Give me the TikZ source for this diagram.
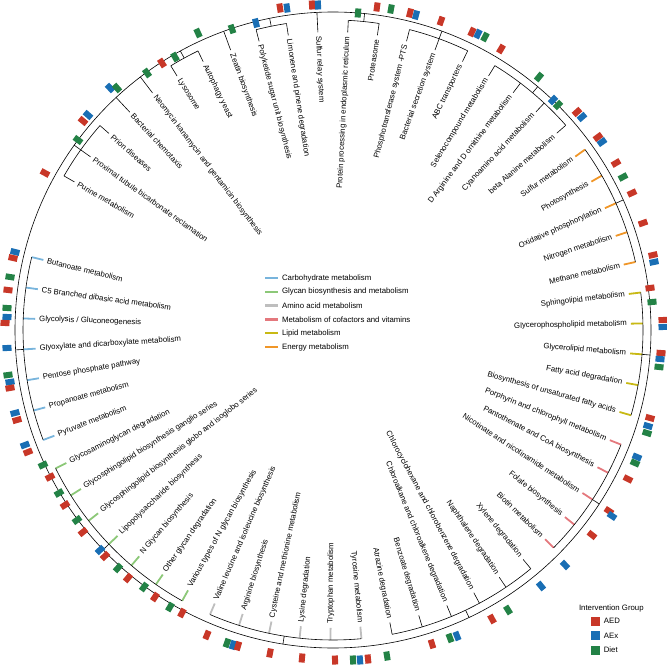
\documentclass[tikz,border=0pt]{standalone}
\usepackage{fontspec}
\setmainfont{Liberation Sans}
\usetikzlibrary{positioning}
\definecolor{carbC}{RGB}{120,180,220}
\definecolor{glycC}{RGB}{140,200,120}
\definecolor{aminC}{RGB}{190,190,190}
\definecolor{cofC}{RGB}{228,120,125}
\definecolor{lipC}{RGB}{200,185,20}
\definecolor{enC}{RGB}{240,150,40}
\definecolor{aedC}{RGB}{200,55,40}
\definecolor{aexC}{RGB}{25,110,180}
\definecolor{dietC}{RGB}{35,130,70}
\tikzset{every picture/.style={line width=0.6pt}}
\tikzset{sq/.style={inner sep=0pt,minimum width=9pt,minimum height=6pt},
  leaflab/.style={inner sep=0.75pt,font=\fontsize{7.8}{9}\selectfont},
  keylab/.style={anchor=west,inner sep=0.75pt,font=\fontsize{7.8}{9}\selectfont}}
\def\blkname{black}
% square of the intervention ring, at screen point (x,y)
\newcommand{\sqm}[3]{\pgfmathsetmacro\sqang{atan2(330-#3,#2-333)}
  \node[sq,fill=#1,rotate=\sqang] at (#2,#3) {};}
% arc of a group of leaves, with its stub to the outer ring
\newcommand{\grp}[2]{\pgfmathsetmacro\ga{-(166.4+5.73*#1)}\pgfmathsetmacro\gb{-(166.4+5.73*#2)}
  \pgfmathsetmacro\gm{(\ga+\gb)/2}
  \draw[shift={(333,330)}] (\ga:310) arc[start angle=\ga,end angle=\gb,radius=310];
  \draw[shift={(333,330)}] (\gm:310) -- (\gm:318);}

\begin{document}
\begin{tikzpicture}[x=1pt,y=1pt,yscale=-1,xscale=1]
\useasboundingbox (0,0) rectangle (667,666);

%Outer ring
\draw (333,330) circle (318);

%Leaves
\foreach \lab/\col [count=\i from 0] in {
 Butanoate metabolism/carbC, C5 Branched dibasic acid metabolism/carbC,
 {Glycolysis / Gluconeogenesis}/carbC, Glyoxylate and dicarboxylate metabolism/carbC,
 Pentose phosphate pathway/carbC, Propanoate metabolism/carbC, Pyruvate metabolism/carbC,
 Glycosaminoglycan degradation/glycC, Glycosphingolipid biosynthesis ganglio series/glycC,
 Glycosphingolipid biosynthesis globo and isoglobo series/glycC,
 Lipopolysaccharide biosynthesis/glycC, N Glycan biosynthesis/glycC,
 Other glycan degradation/glycC, Various types of N glycan biosynthesis/glycC,
 Valine leucine and isoleucine biosynthesis/aminC, Arginine biosynthesis/aminC,
 Cysteine and methionine metabolism/aminC, Lysine degradation/aminC,
 Tryptophan metabolism/aminC, Tyrosine metabolism/aminC,
 Atrazine degradation/black, Benzoate degradation/black,
 Chloroalkane and chloroalkene degradation/black,
 Chlorocyclohexane and chlorobenzene degradation/black,
 Naphthalene degradation/black, Xylene degradation/black,
 Biotin metabolism/cofC, Folate biosynthesis/cofC,
 Nicotinate and nicotinamide metabolism/cofC, Pantothenate and CoA biosynthesis/cofC,
 Porphyrin and chlorophyll metabolism/cofC,
 Biosynthesis of unsaturated fatty acids/lipC, Fatty acid degradation/lipC,
 Glycerolipid metabolism/lipC, Glycerophospholipid metabolism/lipC, Sphingolipid metabolism/lipC,
 Methane metabolism/enC, Nitrogen metabolism/enC, Oxidative phosphorylation/enC,
 Photosynthesis/enC, Sulfur metabolism/enC,
 beta Alanine metabolism/black, Cyanoamino acid metabolism/black,
 D Arginine and D ornithine metabolism/black, Selenocompound metabolism/black,
 ABC transporters/black, Bacterial secretion system/black,
 Phosphotransferase system -PTS/black, Proteasome/black,
 Protein processing in endoplasmic reticulum/black, Sulfur relay system/black,
 Limonene and pinene degradation/black, Polyketide sugar unit biosynthesis/black,
 Zeatin biosynthesis/black, Autophagy yeast/black, Lysosome/black,
 Neomycin kanamycin and gentamicin biosynthesis/black, Bacterial chemotaxis/black,
 Prion diseases/black, Proximal tubule bicarbonate reclamation/black, Purine metabolism/black}{
  \pgfmathsetmacro\t{mod(166.4+5.73*\i,360)}
  \edef\colname{\col}
  \ifx\colname\blkname \def\lw{0.6}\else \def\lw{1.8}\fi
  \draw[shift={(333,330)},color=\col,line width=\lw pt] (-\t:298) -- (-\t:310);
  \pgfmathparse{(\t>90)&&(\t<270)}
  \ifnum\pgfmathresult=1
    \node[leaflab,anchor=west,rotate=\t-180] (l\i) at ([shift={(333,330)}]-\t:295) {\lab};
  \else
    \node[leaflab,anchor=east,rotate=\t] (l\i) at ([shift={(333,330)}]-\t:295) {\lab};
  \fi
}

%Groups
\grp{0}{6} \grp{7}{13} \grp{14}{19} \grp{20}{25} \grp{26}{30} \grp{31}{35}
\grp{36}{40} \grp{41}{44} \grp{45}{47} \grp{48}{49} \grp{50}{50} \grp{51}{52}
\grp{53}{53} \grp{54}{55} \grp{56}{56} \grp{57}{57} \grp{58}{60}

%Intervention ring
\sqm{aexC}{15}{252} \sqm{aedC}{13}{258} \sqm{dietC}{10}{277} \sqm{aedC}{8}{290}
\sqm{dietC}{7}{308} \sqm{aexC}{7}{317} \sqm{aedC}{5}{323} \sqm{aexC}{7}{348}
\sqm{dietC}{8}{375} \sqm{aexC}{10}{382} \sqm{aedC}{10}{388}
\sqm{aexC}{15}{413} \sqm{aedC}{17}{420} \sqm{aexC}{25}{445} \sqm{aedC}{28}{452}
\sqm{dietC}{43}{465} \sqm{aedC}{50}{477} \sqm{dietC}{59}{493} \sqm{aedC}{65}{505}
\sqm{dietC}{77}{520} \sqm{aedC}{83}{532} \sqm{aexC}{100}{550} \sqm{aedC}{105}{556}
\sqm{dietC}{118}{568} \sqm{aedC}{128}{578} \sqm{dietC}{144}{587} \sqm{aedC}{155}{597}
\sqm{dietC}{170}{607} \sqm{aedC}{182}{613} \sqm{aedC}{207}{635}
\sqm{dietC}{227}{643} \sqm{aexC}{233}{645} \sqm{aedC}{238}{646}
\sqm{aedC}{270}{653} \sqm{aedC}{302}{658} \sqm{aedC}{335}{660}
\sqm{dietC}{353}{660} \sqm{aexC}{360}{660} \sqm{aedC}{368}{659} \sqm{dietC}{387}{656}
\sqm{aedC}{432}{644} \sqm{dietC}{450}{638} \sqm{aexC}{457}{636}
\sqm{aedC}{492}{619} \sqm{dietC}{508}{610} \sqm{aexC}{541}{586} \sqm{aexC}{565}{565}
\sqm{aedC}{592}{535} \sqm{aedC}{609}{511} \sqm{aexC}{612}{516} \sqm{aedC}{628}{479}
\sqm{aexC}{637}{457} \sqm{dietC}{635}{463}
\sqm{aedC}{650}{418} \sqm{aexC}{648}{426} \sqm{dietC}{647}{433}
\sqm{aedC}{661}{353} \sqm{aexC}{660}{359} \sqm{dietC}{659}{367}
\sqm{aedC}{663}{320} \sqm{aexC}{663}{327} \sqm{aedC}{650}{288} \sqm{dietC}{652}{302}
\sqm{aedC}{653}{255} \sqm{aexC}{654}{262} \sqm{aedC}{643}{223} \sqm{aedC}{632}{193}
\sqm{dietC}{623}{177} \sqm{aedC}{616}{163} \sqm{aedC}{598}{137} \sqm{aexC}{602}{142}
\sqm{aedC}{577}{112} \sqm{aexC}{582}{117} \sqm{aexC}{553}{100} \sqm{dietC}{558}{105}
\sqm{dietC}{539}{77} \sqm{aedC}{501}{49}
\sqm{aedC}{472}{32} \sqm{aexC}{478}{34} \sqm{dietC}{485}{37}
\sqm{aedC}{441}{21} \sqm{aedC}{410}{13} \sqm{aexC}{416}{15} \sqm{dietC}{391}{9}
\sqm{aedC}{377}{7} \sqm{dietC}{358}{13} \sqm{aedC}{312}{5} \sqm{aexC}{318}{5}
\sqm{aedC}{280}{8} \sqm{aexC}{287}{8} \sqm{aexC}{256}{23} \sqm{dietC}{232}{29}
\sqm{dietC}{198}{33} \sqm{dietC}{175}{57} \sqm{aedC}{162}{63} \sqm{dietC}{147}{73}
\sqm{aexC}{110}{88} \sqm{dietC}{117}{88} \sqm{aexC}{88}{115} \sqm{aedC}{83}{121}
\sqm{dietC}{78}{140} \sqm{aedC}{45}{173}

%Category key
\foreach \txt/\col [count=\k from 0] in {Carbohydrate metabolism/carbC,
  Glycan biosynthesis and metabolism/glycC, Amino acid metabolism/aminC,
  Metabolism of cofactors and vitamins/cofC, Lipid metabolism/lipC, Energy metabolism/enC}{
  \draw[color=\col,line width=2.5pt] (265,278+13.8*\k) -- (278,278+13.8*\k);
  \node[keylab] (k\k) at (281,278+13.8*\k) {\txt};
}

%Intervention key
\node[keylab] (ktitle) at (578,608) {Intervention Group};
\foreach \txt/\col [count=\k from 0] in {AED/aedC, AEx/aexC, Diet/dietC}{
  \node[inner sep=0pt,minimum size=9pt,fill=\col] (s\k) at (595,621+14.5*\k) {};
  \node[keylab,right=3pt of s\k] {\txt};
}
\end{tikzpicture}
\end{document}
